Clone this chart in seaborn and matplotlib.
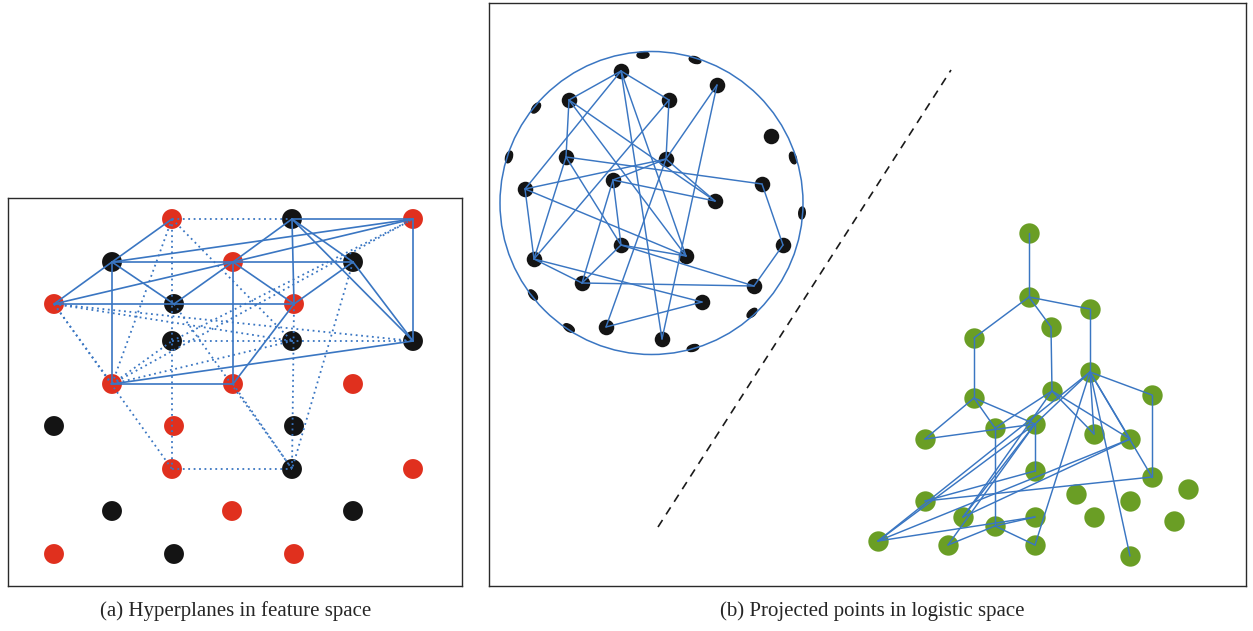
import numpy as np
import pandas as pd
import seaborn as sns
import matplotlib.pyplot as plt
from matplotlib.patches import Circle, Ellipse

sns.set_style('white')
plt.rcParams['font.family'] = ['Liberation Serif', 'DejaVu Serif']

# ---------- (a) feature space: lattice points (pixel positions)
left_labels = ['A', 'B', 'C', 'D', 'E', 'F', 'G', 'H', 'I', 'J', 'K', 'L', 'M', 'N',
               'O', 'P', 'Q', 'S', 'T', 'U', 'V', 'W', 'X', 'Y', 'Z1', 'Z2', 'Z3']
left_x = [172, 292, 413, 112, 233, 353, 54, 174, 294, 172, 292, 413, 112, 233,
          353, 54, 174, 294, 172, 292, 413, 112, 232, 353, 54, 174, 294]
left_y = [219, 219, 219, 262, 262, 262, 304, 304, 304, 341, 341, 341, 384, 384,
          384, 426, 426, 426, 469, 469, 469, 511, 511, 511, 554, 554, 554]
left_class = ['r', 'k', 'r', 'k', 'r', 'k', 'r', 'k', 'r', 'k', 'k', 'k', 'r', 'r',
              'r', 'k', 'r', 'k', 'r', 'k', 'r', 'k', 'r', 'k', 'r', 'k', 'r']

left_solid = [('A', 'D'), ('D', 'E'), ('D', 'C'), ('D', 'H'), ('D', 'G'), ('D', 'M'),
              ('E', 'F'), ('E', 'B'), ('E', 'C'), ('E', 'H'), ('E', 'I'), ('E', 'N'),
              ('G', 'E'), ('G', 'I'), ('B', 'C'), ('B', 'I'), ('B', 'F'), ('B', 'L'),
              ('C', 'L'), ('F', 'I'), ('F', 'L'), ('I', 'N'), ('M', 'L'), ('M', 'N')]
left_dotted = [('A', 'B'), ('A', 'T'), ('A', 'M'), ('A', 'K'), ('G', 'M'), ('G', 'T'),
               ('G', 'L'), ('G', 'K'), ('J', 'L'), ('M', 'J'), ('M', 'K'), ('M', 'C'),
               ('J', 'C'), ('H', 'U'), ('I', 'U'), ('F', 'U'), ('N', 'U'), ('T', 'U')]

# ---------- (b) logistic space
ring_x = [621, 569, 669, 717, 771, 566, 666, 613, 525, 762,
          715, 783, 621, 686, 534, 582, 754, 702, 606, 662]
ring_y = [71, 100, 100, 85, 136, 157, 159, 180, 189, 184,
          201, 245, 245, 256, 259, 283, 286, 302, 327, 339]
ring_edges = [(1, 2), (1, 3), (1, 9), (1, 14), (1, 20), (2, 6), (2, 11), (2, 14),
              (3, 7), (3, 15), (4, 7), (4, 20), (6, 10), (6, 13), (6, 15), (7, 9),
              (7, 8), (7, 11), (7, 19), (8, 13), (8, 16), (8, 11), (9, 15), (9, 14),
              (10, 12), (12, 17), (13, 14), (13, 17), (13, 16), (15, 16), (15, 18),
              (16, 17), (18, 19)]
rim_x = [643, 695, 536, 509, 793, 802, 533, 569, 752, 693]
rim_y = [55, 60, 108, 157, 158, 213, 295, 328, 313, 348]
ring_center = (651.5, 203)
ring_radius = 151.5

tree_x = [1029, 1029, 1090, 1051, 974, 1090, 1052, 974, 1152, 1035,
          995, 1094, 925, 1130, 1035, 1152, 1188, 1076, 925, 1130,
          963, 1094, 1035, 1174, 995, 878, 948, 1035, 1130]
tree_y = [233, 297, 309, 327, 338, 372, 391, 398, 395, 424,
          428, 434, 439, 439, 471, 477, 489, 494, 501, 501,
          517, 517, 517, 521, 526, 541, 545, 545, 556]
tree_edges = [(1, 2), (2, 3), (2, 4), (2, 5), (3, 6), (4, 7), (5, 8), (8, 11),
              (8, 13), (8, 10), (13, 10), (11, 7), (10, 15), (11, 25), (10, 26),
              (10, 21), (7, 21), (10, 27), (19, 15), (19, 16), (21, 14), (26, 14),
              (26, 23), (26, 6), (27, 25), (25, 23), (25, 28), (6, 9), (9, 16),
              (6, 16), (6, 12), (6, 14), (6, 29), (6, 28), (6, 10), (7, 12), (7, 14)]

sep_x = [658, 951]
sep_y = [527, 70]

BLUE = '#3a76c2'
W, H = 1253, 631
fig = plt.figure(figsize=(W / 100, H / 100), dpi=100)


def add_panel(x0, y0, x1, y1):
    ax = fig.add_axes([x0 / W, 1 - y1 / H, (x1 - x0) / W, (y1 - y0) / H])
    ax.set_xlim(x0, x1)
    ax.set_ylim(y1, y0)
    ax.set_xticks([])
    ax.set_yticks([])
    for s in ax.spines.values():
        s.set_color('#2a2a2a')
        s.set_linewidth(1.0)
    return ax


# panel (a)
ax1 = add_panel(8, 198, 462, 586)
left = pd.DataFrame({'x': left_x, 'y': left_y, 'cls': left_class}, index=left_labels)
sns.scatterplot(data=left, x='x', y='y', hue='cls',
                palette={'r': '#e0301e', 'k': '#141414'},
                s=205, linewidth=0, legend=False, ax=ax1, zorder=2)
for a, b in left_solid:
    ax1.plot([left.x[a], left.x[b]], [left.y[a], left.y[b]], color=BLUE, lw=1.2, zorder=3)
for a, b in left_dotted:
    ax1.plot([left.x[a], left.x[b]], [left.y[a], left.y[b]], color=BLUE, lw=1.3,
             ls=(0, (1, 2.0)), zorder=3)
ax1.set_xlabel('')
ax1.set_ylabel('')

# panel (b)
ax2 = add_panel(489, 3, 1246, 586)
ax2.add_patch(Circle(ring_center, ring_radius, fill=False, color=BLUE, lw=1.1, zorder=3))
for x, y in zip(rim_x, rim_y):
    ang = np.degrees(np.arctan2(y - ring_center[1], x - ring_center[0])) + 90
    ax2.add_patch(Ellipse((x, y), 12, 6.5, angle=ang, color='#141414', zorder=2))
sns.scatterplot(x=ring_x, y=ring_y, color='#141414', s=125, linewidth=0,
                ax=ax2, zorder=2)
for a, b in ring_edges:
    ax2.plot([ring_x[a - 1], ring_x[b - 1]], [ring_y[a - 1], ring_y[b - 1]],
             color=BLUE, lw=1.05, zorder=3)

sns.scatterplot(x=tree_x, y=tree_y, color='#6a9e25', s=215, linewidth=0,
                ax=ax2, zorder=2)
for a, b in tree_edges:
    ax2.plot([tree_x[a - 1], tree_x[b - 1]], [tree_y[a - 1], tree_y[b - 1]],
             color=BLUE, lw=1.05, zorder=3)

ax2.plot(sep_x, sep_y, color='#1a1a1a', lw=1.2, ls=(0, (5, 4)), zorder=3)
ax2.set_xlim(489, 1246)
ax2.set_ylim(586, 3)
ax2.set_xlabel('')
ax2.set_ylabel('')

fig.text(236 / W, 1 - 611 / H, '(a) Hyperplanes in feature space',
         ha='center', va='center', fontsize=15)
fig.text(872 / W, 1 - 611 / H, '(b) Projected points in logistic space',
         ha='center', va='center', fontsize=15)

fig.savefig('out.png', dpi=100)
